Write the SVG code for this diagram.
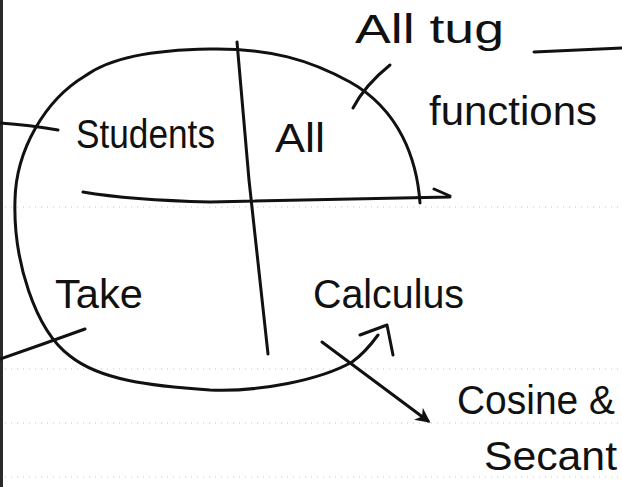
<svg xmlns="http://www.w3.org/2000/svg" width="622" height="487" viewBox="0 0 622 487">
  <defs>
    <style>
      .ink { fill: none; stroke: #111; stroke-width: 3; stroke-linecap: round; stroke-linejoin: round; }
      .rule { fill: none; stroke: #c4c4c4; stroke-width: 1; stroke-dasharray: 1 5; }
      .hand { font-family: "Liberation Sans", Arial, sans-serif; fill: #111; font-size: 40px; }
    </style>
    <marker id="tip" viewBox="0 0 10 10" refX="8" refY="5" markerWidth="5" markerHeight="5" orient="auto" markerUnits="strokeWidth">
      <path d="M0,0 L10,5 L0,10 L3,5 Z" fill="#111"/>
    </marker>
  </defs>
  <rect width="622" height="487" fill="#ffffff"/>

  <!-- faint ruled lines of the scanned page -->
  <g id="page-rules">
    <line class="rule" x1="5" y1="207" x2="622" y2="207"/>
    <line class="rule" x1="5" y1="369" x2="622" y2="369"/>
    <line class="rule" x1="5" y1="423" x2="622" y2="423"/>
    <line class="rule" x1="5" y1="477" x2="622" y2="477"/>
  </g>

  <!-- scan edge on the left -->
  <rect id="scan-edge" x="0" y="0" width="3" height="487" fill="#2a2a2a"/>

  <g id="connectors">
    <!-- big rounded outline ending in an arrow -->
    <path class="ink" d="M420,203 C417,160 400,110 350,82 C310,60 270,48 210,49 C150,50 110,58 85,76 C45,100 16,150 15,200 C13,260 35,330 70,356 C100,380 150,386 210,390 C260,392 320,380 352,362 C362,355 370,346 378,335"/>
    <polyline class="ink" points="360,335 387,325 393,355"/>
    <!-- vertical divider -->
    <path class="ink" d="M237,42 L249,180 L268,354"/>
    <!-- horizontal divider -->
    <path class="ink" d="M83,192 Q130,200 210,202 L450,197 M434,189 L450,196"/>
    <!-- pointer lines -->
    <path class="ink" d="M0,123 Q30,125 58,130"/>
    <path class="ink" d="M0,359 L43,344 L85,329"/>
    <path class="ink" d="M390,65 Q365,85 353,108"/>
    <path class="ink" d="M534,52 L622,48"/>
    <path class="ink" d="M322,342 L428,421" marker-end="url(#tip)"/>
  </g>

  <g id="label-all-tug"><text class="hand" x="355" y="43" textLength="149" lengthAdjust="spacingAndGlyphs">All tug</text></g>
  <g id="label-functions"><text class="hand" x="429" y="125" font-size="42" textLength="168" lengthAdjust="spacingAndGlyphs">functions</text></g>
  <g id="label-students"><text class="hand" x="76" y="148" font-size="37" textLength="139" lengthAdjust="spacingAndGlyphs">Students</text></g>
  <g id="label-all"><text class="hand" x="275" y="152" font-size="35" textLength="50" lengthAdjust="spacingAndGlyphs">All</text></g>
  <g id="label-take"><text class="hand" x="55" y="308" font-size="46" textLength="88" lengthAdjust="spacingAndGlyphs">Take</text></g>
  <g id="label-calculus"><text class="hand" x="313" y="308" font-size="46" textLength="151" lengthAdjust="spacingAndGlyphs">Calculus</text></g>
  <g id="label-cosine"><text class="hand" x="457" y="414" font-size="46" textLength="158" lengthAdjust="spacingAndGlyphs">Cosine &amp;</text></g>
  <g id="label-secant"><text class="hand" x="484" y="470" font-size="46" textLength="133" lengthAdjust="spacingAndGlyphs">Secant</text></g>
</svg>
